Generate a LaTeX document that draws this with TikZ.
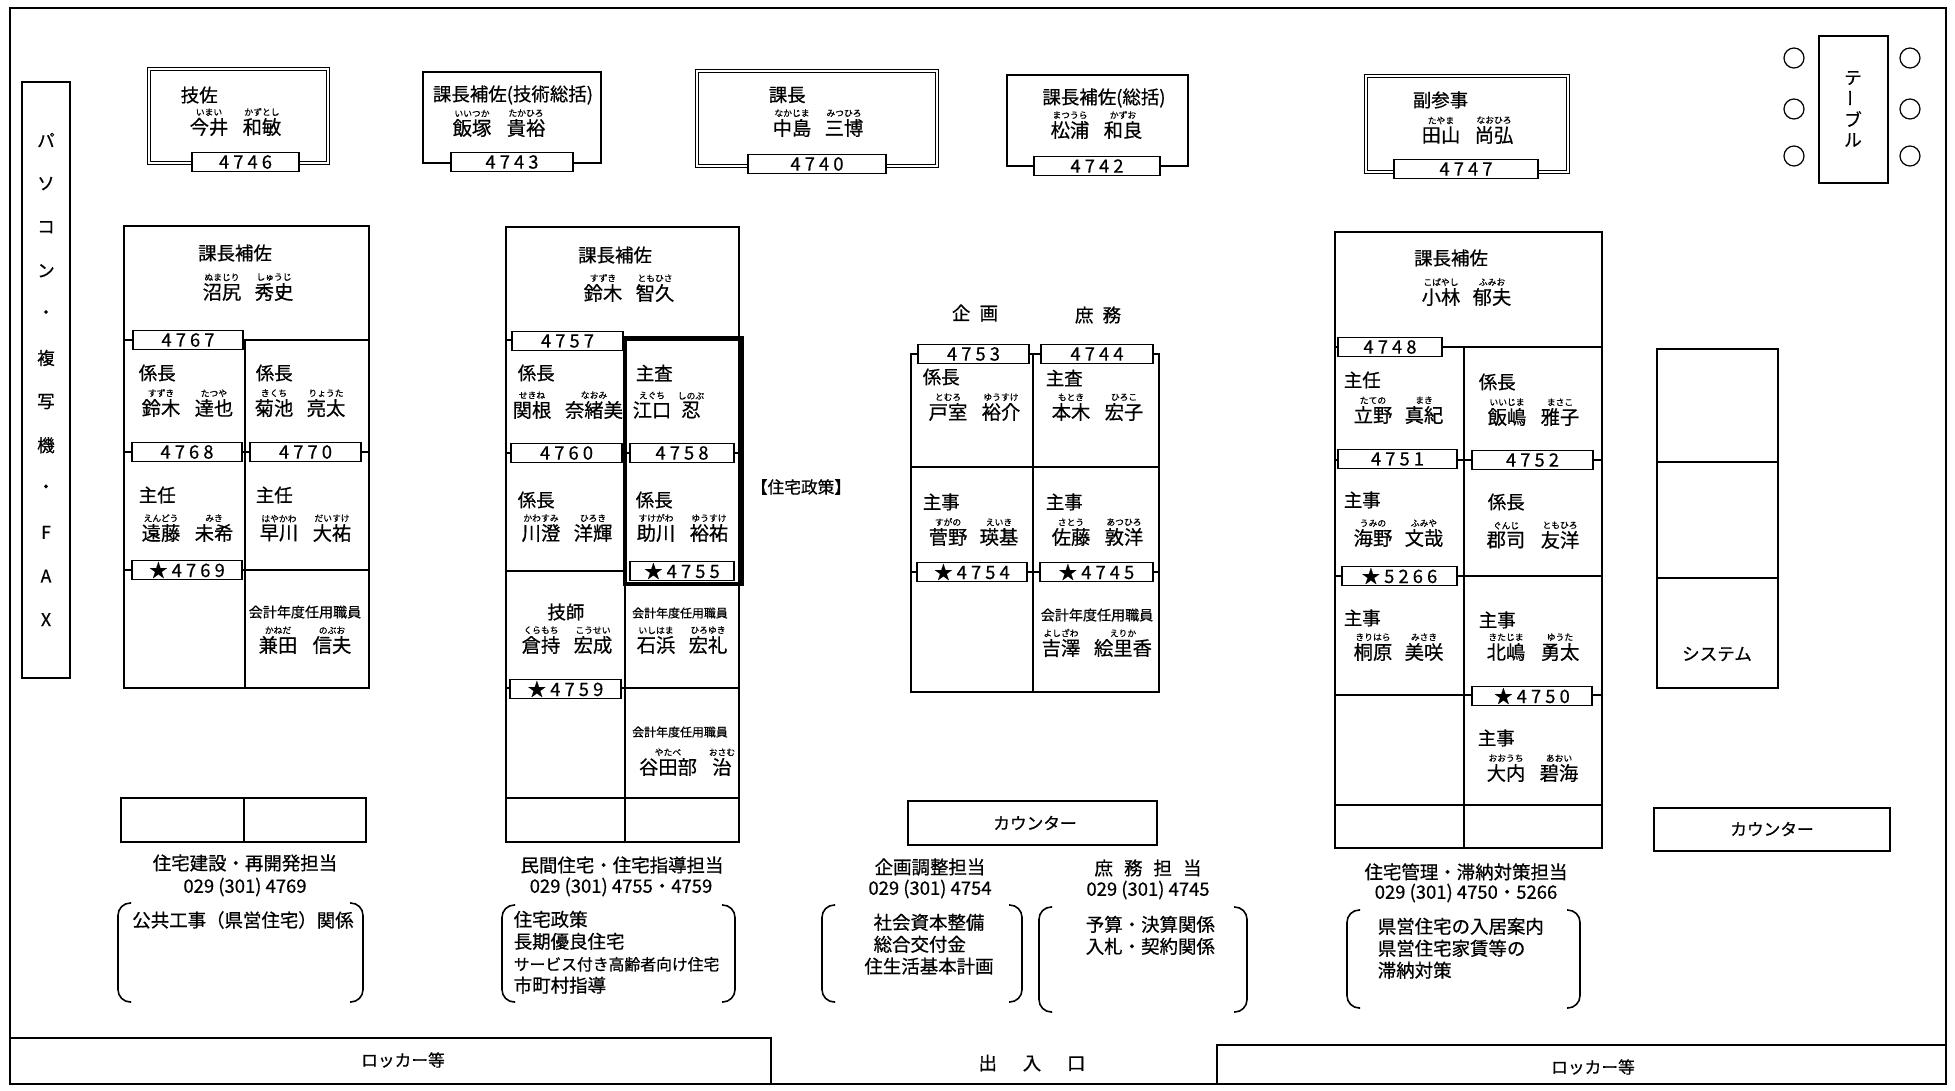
\documentclass[tikz,border=0pt]{standalone}
\usepackage{fontspec}
\setmainfont{Noto Sans CJK JP}[FakeBold=0.6]
\newfontfamily\telfont[LetterSpace=22,FakeBold=0.4]{Noto Sans CJK JP}
\usetikzlibrary{positioning}

\tikzset{
  ttl/.style={font=\fontsize{10.5}{12}\selectfont, inner sep=0pt},
  nm/.style={font=\fontsize{11}{12}\selectfont, inner sep=0pt},
  yomi/.style={font=\fontsize{5}{5}\selectfont, inner sep=0.3pt},
  tel/.style={draw, fill=white, line width=0.8pt, minimum height=0.38cm, inner sep=0pt,
    font=\telfont\fontsize{10.5}{11}\selectfont},
  chief/.style={double, double distance=1.3pt, line width=0.6pt},
  lbl/.style={font=\fontsize{10.5}{12.5}\selectfont, inner sep=0pt},
  sign/.style={font=\fontsize{9.5}{11}\selectfont, inner sep=0pt},
}

\newcounter{seat}
% anchor of title, title position, title, family pos, reading, family, given pos, reading, given
\newcommand{\seatat}[9]{%
  \stepcounter{seat}%
  \node[ttl, anchor=#1] (s\theseat) at (#2) {#3};
  \node[nm] (s\theseat-f) at (#4) {#6};
  \node[yomi, above=0pt of s\theseat-f] (s\theseat-fy) {#5};
  \node[nm] (s\theseat-g) at (#7) {#9};
  \node[yomi, above=0pt of s\theseat-g] (s\theseat-gy) {#8};
}
\newcommand{\telbox}[5]{%
  \node[tel, minimum width={(#3-#2)*0.02cm}] (#1) at ({(#2+#3)/2},#4) {#5};}
\newcommand{\brackets}[4]{%
  \draw[rounded corners=7pt] (#1+13,#2) -- (#1,#2) -- (#1,#4) -- (#1+13,#4);
  \draw[rounded corners=7pt] (#3-13,#2) -- (#3,#2) -- (#3,#4) -- (#3-13,#4);}
\newcommand{\kaikei}{{\fontsize{8}{9}\selectfont 会計年度任用職員}}
\newcommand{\kaikeis}{{\fontsize{6.8}{8}\selectfont 会計年度任用職員}}

\begin{document}
\begin{tikzpicture}[x=0.02cm, y=-0.02cm, line width=0.9pt]
\useasboundingbox (0,0) rectangle (1955,1090);

% room and lockers
\draw[line width=1.4pt] (10,8) rectangle (1946,1084);
\draw (10,1038) -- (771,1038) -- (771,1084);
\draw (1217,1084) -- (1217,1045) -- (1946,1045);
\node[sign] (locker1) at (403,1060) {ロッカー等};
\node[sign] (locker2) at (1593,1067) {ロッカー等};
\node[lbl] (door) at (1032,1063) {出\hspace{1.4em}入\hspace{1.4em}口};

% pc / copier / fax
\draw (22,82) rectangle (70,678);
\foreach \c [count=\i from 0] in {パ,ソ,コ,ン,・,複,写,機,・,F,A,X}
  \node[sign, font=\fontsize{10}{11}\selectfont] (pc\i) at (46,140+43.6*\i) {\c};

% meeting table
\draw (1819,36) rectangle (1888,183);
\foreach \c/\y/\r [count=\i] in {テ/78/0, ー/98/90, ブ/119/0, ル/140/0}
  \node[sign, font=\fontsize{10}{11}\selectfont, rotate=\r] (tb\i) at (1853,\y) {\c};
\foreach \y in {58,109,156} {
  \draw[line width=0.7pt] (1794,\y) circle (10);
  \draw[line width=0.7pt] (1910,\y) circle (10);
}

% front desks
\draw[chief] (149,69) rectangle (328,163);
\draw (423,72) rectangle (601,163);
\draw[chief] (697,71) rectangle (937,166);
\draw (1007,75) rectangle (1188,166);
\draw[chief] (1366,76) rectangle (1568,172);
\seatat{west}{180,95}{技佐}{209,127}{いまい}{今井}{262,127}{かずとし}{和敏}
\seatat{center}{513,95}{課長補佐(技術総括)}{472,128}{いいつか}{飯塚}{526,128}{たかひろ}{貴裕}
\seatat{west}{768,95}{課長}{792,128}{なかじま}{中島}{844,128}{みつひろ}{三博}
\seatat{center}{1104,98}{課長補佐(総括)}{1070,130}{まつうら}{松浦}{1123,130}{かずお}{和良}
\seatat{west}{1412,100}{副参事}{1441,135}{たやま}{田山}{1494,135}{なおひろ}{尚弘}
\telbox{t4746}{192}{299}{162}{4746}
\telbox{t4743}{451}{573}{162}{4743}
\telbox{t4740}{748}{886}{164}{4740}
\telbox{t4742}{1034}{1160}{166}{4742}
\telbox{t4747}{1394}{1538}{169}{4747}

% 住宅建設・再開発
\draw (124,226) rectangle (369,688);
\draw (124,340) -- (369,340) (245,340) -- (245,688) (124,452) -- (369,452) (124,570) -- (369,570);
\draw (121,798) rectangle (366,842) (244,798) -- (244,842);
\seatat{center}{235,253}{課長補佐}{222,292}{ぬまじり}{沼尻}{274,292}{しゅうじ}{秀史}
\seatat{west}{138,373}{係長}{161,408}{すずき}{鈴木}{214,408}{たつや}{達也}
\seatat{west}{255,373}{係長}{274,408}{きくち}{菊池}{326,408}{りょうた}{亮太}
\seatat{west}{138,495}{主任}{161,533}{えんどう}{遠藤}{214,533}{みき}{未希}
\seatat{west}{255,495}{主任}{279,533}{はやかわ}{早川}{332,533}{だいすけ}{大祐}
\seatat{center}{305,612}{\kaikei}{278,645}{かねだ}{兼田}{332,645}{のぶお}{信夫}
\telbox{t4767}{133}{243}{340}{4767}
\telbox{t4768}{132}{242}{452}{4768}
\telbox{t4770}{250}{361}{452}{4770}
\telbox{t4769}{132}{242}{570}{★4769}

% 民間住宅・住宅指導
\draw (506,227) rectangle (739,842);
\draw (506,340) -- (739,340) (625,340) -- (625,842) (506,453) -- (739,453) (506,571) -- (625,571)
      (506,688) -- (739,688) (506,798) -- (739,798);
\draw[line width=1.8pt] (625,338) rectangle (742,584);
\seatat{center}{615,255}{課長補佐}{603,293}{すずき}{鈴木}{655,293}{ともひさ}{智久}
\seatat{west}{517,373}{係長}{532,410}{せきね}{関根}{594,410}{なおみ}{奈緒美}
\seatat{west}{635,373}{主査}{652,410}{えぐち}{江口}{691,410}{しのぶ}{忍}
\seatat{west}{517,500}{係長}{541,533}{かわすみ}{川澄}{593,533}{ひろき}{洋輝}
\seatat{west}{635,500}{係長}{656,533}{すけがわ}{助川}{709,533}{ゆうすけ}{裕祐}
\seatat{center}{566,612}{技師}{541,645}{くらもち}{倉持}{593,645}{こうせい}{宏成}
\seatat{center}{680,613}{\kaikeis}{656,645}{いしはま}{石浜}{708,645}{ひろゆき}{宏礼}
\seatat{center}{680,732}{\kaikeis}{668,767}{やたべ}{谷田部}{722,767}{おさむ}{治}
\telbox{t4757}{512}{623}{341}{4757}
\telbox{t4760}{511}{622}{453}{4760}
\telbox{t4758}{630}{734}{453}{4758}
\telbox{t4755}{630}{734}{571}{★4755}
\telbox{t4759}{510}{621}{689}{★4759}
\node[sign] (policy) at (801,487) {【住宅政策】};

% 企画・庶務
\node[lbl] (kikaku) at (975,313) {企\enspace 画};
\node[lbl] (shomu) at (1098,315) {庶\enspace 務};
\draw (911,354) rectangle (1159,692);
\draw (1033,354) -- (1033,692) (911,467) -- (1159,467) (911,572) -- (1159,572);
\seatat{west}{922,377}{係長}{948,412}{とむろ}{戸室}{1001,412}{ゆうすけ}{裕介}
\seatat{west}{1045,378}{主査}{1071,412}{もとき}{本木}{1124,412}{ひろこ}{宏子}
\seatat{west}{922,502}{主事}{948,537}{すがの}{菅野}{999,537}{えいき}{瑛基}
\seatat{west}{1045,502}{主事}{1071,537}{さとう}{佐藤}{1124,537}{あつひろ}{敦洋}
\seatat{center}{1097,615}{\kaikei}{1061,648}{よしざわ}{吉澤}{1123,648}{えりか}{絵里香}
\telbox{t4753}{918}{1029}{354}{4753}
\telbox{t4744}{1041}{1153}{354}{4744}
\telbox{t4754}{917}{1027}{572}{★4754}
\telbox{t4745}{1040}{1153}{572}{★4745}
\draw (908,801) rectangle (1157,845);
\node[sign] (counter1) at (1035,823) {カウンター};

% 住宅管理・滞納対策
\draw (1335,232) rectangle (1602,848);
\draw (1335,347) -- (1602,347) (1464,347) -- (1464,848) (1335,460) -- (1602,460) (1335,576) -- (1602,576)
      (1335,695) -- (1602,695) (1335,805) -- (1602,805);
\seatat{center}{1451,258}{課長補佐}{1441,297}{こばやし}{小林}{1492,297}{ふみお}{郁夫}
\seatat{west}{1343,380}{主任}{1373,415}{たての}{立野}{1424,415}{まき}{真紀}
\seatat{west}{1478,382}{係長}{1507,417}{いいじま}{飯嶋}{1560,417}{まさこ}{雅子}
\seatat{west}{1343,500}{主事}{1373,538}{うみの}{海野}{1424,538}{ふみや}{文哉}
\seatat{west}{1487,502}{係長}{1506,540}{ぐんじ}{郡司}{1560,540}{ともひろ}{友洋}
\seatat{west}{1343,618}{主事}{1373,652}{きりはら}{桐原}{1424,652}{みさき}{美咲}
\seatat{west}{1478,620}{主事}{1506,652}{きたじま}{北嶋}{1560,652}{ゆうた}{勇太}
\seatat{west}{1477,738}{主事}{1506,773}{おおうち}{大内}{1559,773}{あおい}{碧海}
\telbox{t4748}{1338}{1442}{347}{4748}
\telbox{t4751}{1338}{1457}{459}{4751}
\telbox{t4752}{1472}{1593}{460}{4752}
\telbox{t5266}{1342}{1457}{576}{★5266}
\telbox{t4750}{1472}{1592}{696}{★4750}

% system and counter
\draw (1657,349) rectangle (1778,688) (1657,462) -- (1778,462) (1657,578) -- (1778,578);
\node[sign, font=\fontsize{10}{11}\selectfont] (system) at (1717,654) {システム};
\draw (1654,808) rectangle (1890,851);
\node[sign] (counter2) at (1772,829) {カウンター};

% duties
\node[lbl] (g1) at (245,863) {住宅建設・再開発担当};
\node[lbl] (g1tel) at (245,887) {029 (301) 4769};
\brackets{118}{903}{363}{1002}
\node[lbl] (g1job) at (243,920) {公共工事（県営住宅）関係};

\node[lbl] (g2) at (622,865) {民間住宅・住宅指導担当};
\node[lbl] (g2tel) at (621,887) {029 (301) 4755・4759};
\brackets{502}{905}{735}{1002}
\node[lbl, align=left, anchor=north west] (g2job) at (513,910)
  {住宅政策\\長期優良住宅\\{\fontsize{9}{10}\selectfont サービス付き高齢者向け住宅}\\市町村指導};

\node[lbl] (g3) at (930,867) {企画調整担当};
\node[lbl] (g3tel) at (930,889) {029 (301) 4754};
\brackets{822}{905}{1022}{1002}
\node[lbl, align=center, anchor=north] (g3job) at (929,913)
  {社会資本整備\\総合交付金\phantom{備}\\住生活基本計画};

\node[lbl] (g4) at (1148,868) {庶\hspace{.6em}務\hspace{.6em}担\hspace{.6em}当};
\node[lbl] (g4tel) at (1148,890) {029 (301) 4745};
\brackets{1039}{907}{1247}{1012}
\node[lbl, align=left, anchor=north west] (g4job) at (1085,915) {予算・決算関係\\入札・契約関係};

\node[lbl] (g5) at (1466,872) {住宅管理・滞納対策担当};
\node[lbl] (g5tel) at (1466,893) {029 (301) 4750・5266};
\brackets{1347}{910}{1580}{1008}
\node[lbl, align=left, anchor=north west] (g5job) at (1377,917) {県営住宅の入居案内\\県営住宅家賃等の\\滞納対策};
\end{tikzpicture}
\end{document}
